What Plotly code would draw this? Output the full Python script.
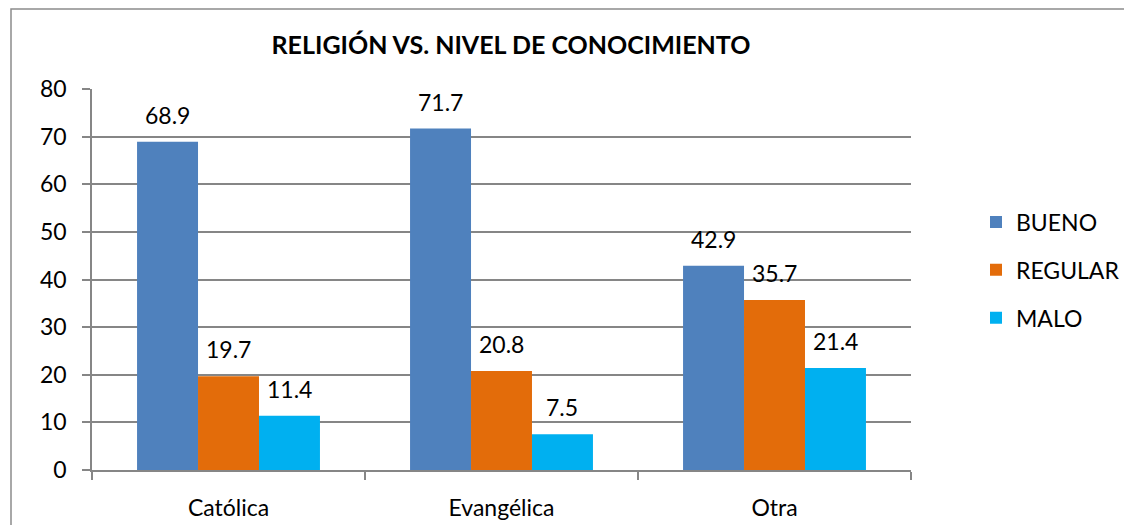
import plotly.graph_objects as go

categories = ["Católica", "Evangélica", "Otra"]
bueno = [68.9, 71.7, 42.9]
regular = [19.7, 20.8, 35.7]
malo = [11.4, 7.5, 21.4]
series_names = ["BUENO", "REGULAR", "MALO"]
colors = ["#4F81BD", "#E36C0A", "#00B0F0"]
y_ticks = [0, 10, 20, 30, 40, 50, 60, 70, 80]

OFF = 8  # page body offset
W, H = 1132 - OFF, 525 - OFF
L, T = 92 - OFF, 89 - OFF
PR, PB = 911 - OFF, 470 - OFF  # plot right / bottom in figure px
R, B = W - PR, H - PB
pw, ph = W - L - R, H - T - B
FONT = "Lato"
FS = 23

fig = go.Figure()
all_series = [bueno, regular, malo]
for i, (name, vals, col) in enumerate(zip(series_names, all_series, colors)):
    fig.add_trace(go.Bar(
        x=categories, y=vals, name=name, marker=dict(color=col, line=dict(width=0)),
        legendgroup=name,
    ))

bar_px = pw / 3 * (1 - 0.33) / 3
annotations = []
for i, vals in enumerate(all_series):
    for c, v in zip(categories, vals):
        annotations.append(dict(
            x=c, y=v, xref="x", yref="y", text=f"{v:.1f}", showarrow=False,
            xshift=(i - 1) * bar_px, yshift=27, yanchor="middle",
            font=dict(family=FONT, size=FS, color="#000000"),
        ))

fig.update_layout(
    width=W, height=H,
    margin=dict(l=L, r=R, t=T, b=B, autoexpand=False),
    paper_bgcolor="white", plot_bgcolor="white",
    barmode="group", bargap=0.33, bargroupgap=0,
    title=dict(text="<b>RELIGIÓN VS. NIVEL DE CONOCIMIENTO</b>",
               x=(511 - OFF) / W, xanchor="center", y=1 - (45 - OFF) / H, yanchor="middle",
               font=dict(family=FONT, size=25, color="#000000")),
    legend=dict(x=(968 - L) / pw, xanchor="left", y=(PB - (270 - OFF)) / ph, yanchor="middle",
                font=dict(family=FONT, size=FS, color="#000000"),
                tracegroupgap=15, bgcolor="rgba(0,0,0,0)"),
    annotations=annotations,
    shapes=[dict(type="rect", xref="paper", yref="paper",
                 x0=(11 - OFF - L) / pw, x1=1.6, y0=-0.6, y1=(PB - (9 - OFF)) / ph,
                 line=dict(color="#8C8C8C", width=1.5), fillcolor="rgba(0,0,0,0)", layer="below")],
    showlegend=True,
)

fig.update_xaxes(
    showline=True, linecolor="#868686", linewidth=1.5,
    ticks="outside", tickson="boundaries", ticklen=8, tickcolor="#868686", tickwidth=1.5,
    tickfont=dict(family=FONT, size=FS, color="#000000"), ticklabelstandoff=17,
    showgrid=False,
)
fig.update_yaxes(
    range=[0, 80], tickvals=y_ticks, ticktext=[str(t) for t in y_ticks],
    showline=True, linecolor="#868686", linewidth=1.5,
    ticks="outside", ticklen=8, tickcolor="#868686", tickwidth=1.5,
    showgrid=True, gridcolor="#868686", gridwidth=1.5,
    zeroline=False,
    tickfont=dict(family=FONT, size=FS, color="#000000"), ticklabelstandoff=11,
)

fig.write_html("out.html")
